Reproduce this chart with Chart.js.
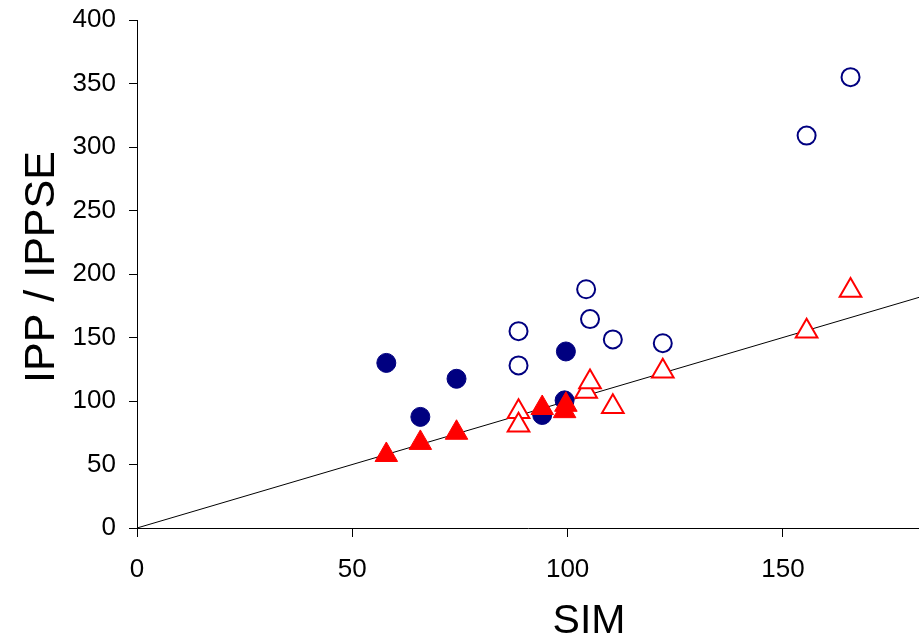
<!DOCTYPE html>
<html>
<head>
<meta charset="utf-8">
<script src="https://cdn.jsdelivr.net/npm/chart.js@4.4.0/dist/chart.umd.min.js"></script>
<style>
  html, body { margin: 0; padding: 0; background: #fff; overflow: hidden; }
  canvas { display: block; }
</style>
</head>
<body>
<canvas id="simChart" width="919" height="644"></canvas>
<script>
// SIM vs IPP / IPPSE scatter

// group A (filled markers)
const simA   = [57.9, 65.8, 74.2, 94.1, 99.6, 99.3];
const ippA   = [130, 87.5, 117.5, 89, 139, 100.5];
const ippseA = [57.5, 67, 75, 94.5, 97, 92];

// group B (open markers)
const simB   = [88.6, 88.6, 104.3, 105.2, 110.5, 122.1, 155.5, 165.7];
const ippB   = [155, 128, 188, 164.5, 148.5, 145.5, 309, 355];
const ippseB = [91.5, 81, 107.5, 115, 95.5, 123.5, 155, 187];

// identity line end points
const lineX = [0, 181.6];

const xTicks = [0, 50, 100, 150];
const yMax = 400;
const xTitle = 'SIM';
const yTitle = 'IPP / IPPSE';

const NAVY = '#000080';
const RED = '#ff0000';
const FONT = 'Arial, "Liberation Sans", sans-serif';

function pairs(xs, ys) {
    return xs.map((x, i) => ({ x: x, y: ys[i] }));
}

// axis titles are off-centre in the original, so draw them by hand
const axisTitlePlugin = {
    id: 'axisTitles',
    afterDraw(chart) {
        const c = chart.ctx;
        const area = chart.chartArea;
        c.save();
        c.fillStyle = '#000';
        c.textAlign = 'center';
        c.textBaseline = 'middle';
        c.font = '41px ' + FONT;
        c.fillText(xTitle, area.left + 452, 622);
        c.translate(42, 267);
        c.rotate(-Math.PI / 2);
        c.font = '43px ' + FONT;
        c.fillText(yTitle, 0, 0);
        c.restore();
    }
};

const ctx = document.getElementById('simChart');

new Chart(ctx, {
    type: 'scatter',
    data: {
        datasets: [
            {
                label: 'IPPSE (filled)',
                data: pairs(simA, ippseA),
                pointStyle: 'triangle',
                pointRadius: 13,
                backgroundColor: RED,
                borderColor: RED,
                borderWidth: 1
            },
            {
                label: 'IPP (filled)',
                data: pairs(simA, ippA),
                pointStyle: 'circle',
                pointRadius: 9.5,
                backgroundColor: NAVY,
                borderColor: NAVY,
                borderWidth: 1
            },
            {
                label: 'IPPSE (open)',
                data: pairs(simB, ippseB),
                pointStyle: 'triangle',
                pointRadius: 12.5,
                backgroundColor: '#fff',
                borderColor: RED,
                borderWidth: 2
            },
            {
                label: 'IPP (open)',
                data: pairs(simB, ippB),
                pointStyle: 'circle',
                pointRadius: 9,
                backgroundColor: '#fff',
                borderColor: NAVY,
                borderWidth: 2
            },
            {
                label: 'y = x',
                data: pairs(lineX, lineX),
                showLine: true,
                pointRadius: 0,
                borderColor: '#000',
                borderWidth: 1,
                fill: false
            }
        ]
    },
    options: {
        responsive: false,
        animation: false,
        layout: {
            autoPadding: false,
            padding: { top: 20, right: 0, left: 0, bottom: 0 }
        },
        plugins: {
            legend: { display: false },
            tooltip: { enabled: false }
        },
        scales: {
            x: {
                type: 'linear',
                min: 0,
                max: lineX[1],
                afterBuildTicks: (axis) => { axis.ticks = xTicks.map(v => ({ value: v })); },
                afterFit: (axis) => {
                    axis.height = 116;
                    axis.paddingRight = 0;
                    axis.paddingLeft = 0;
                },
                grid: {
                    drawOnChartArea: false,
                    drawTicks: true,
                    tickLength: 9,
                    color: '#000'
                },
                border: { color: '#000', width: 1 },
                ticks: {
                    color: '#000',
                    padding: 17,
                    maxRotation: 0,
                    font: { family: FONT, size: 26 }
                },
                title: { display: false }
            },
            y: {
                min: 0,
                max: yMax,
                afterFit: (axis) => {
                    axis.width = 137;
                    axis.paddingTop = 0;
                    axis.paddingBottom = 0;
                },
                grid: {
                    drawOnChartArea: false,
                    drawTicks: true,
                    tickLength: 8,
                    color: '#000'
                },
                border: { color: '#000', width: 1 },
                ticks: {
                    stepSize: 50,
                    color: '#000',
                    padding: 13,
                    font: { family: FONT, size: 26 }
                },
                title: { display: false }
            }
        }
    },
    plugins: [axisTitlePlugin]
});
</script>
</body>
</html>
